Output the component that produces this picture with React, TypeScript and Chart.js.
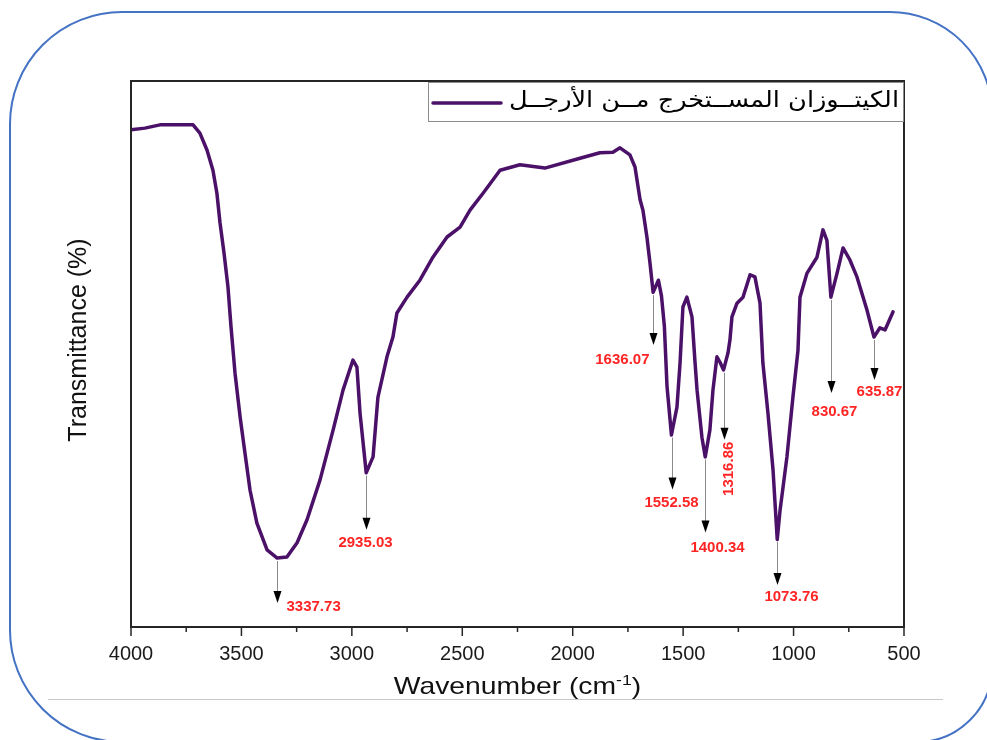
import React, { useEffect, useRef } from "react";
import { Chart, registerables } from "chart.js";

Chart.register(...registerables);

// ---------- DATA ----------
const WAVENUMBERS = [
  4000, 3937, 3869, 3719, 3688, 3656, 3629, 3611, 3597, 3579, 3561, 3547, 3538, 3529, 3506,
  3484, 3461, 3430, 3384, 3338, 3294, 3248, 3203, 3144, 3085, 3040, 2995, 2977, 2963, 2935,
  2904, 2882, 2841, 2814, 2796, 2750, 2692, 2633, 2569, 2510, 2465, 2406, 2329, 2239, 2126,
  1967, 1877, 1818, 1786, 1741, 1718, 1695, 1682, 1664, 1650, 1636, 1612, 1598, 1585, 1573,
  1553, 1528, 1514, 1501, 1483, 1460, 1446, 1437, 1415, 1400, 1379, 1365, 1347, 1333, 1317,
  1297, 1288, 1279, 1256, 1229, 1197, 1175, 1152, 1139, 1116, 1093, 1074, 1061, 1030, 1003,
  980, 971, 939, 894, 867, 849, 831, 803, 776, 745, 713, 668, 636, 609, 586, 550,
];
const TRANSMITTANCE = [
  90.9, 91.2, 91.8, 91.8, 90.3, 87.2, 83.5, 79.3, 73.9, 68.4, 62.2, 54.8, 50.6, 46.4, 38.4,
  31.8, 25.0, 19.0, 14.1, 12.6, 12.8, 15.4, 19.6, 26.9, 36.0, 43.3, 48.8, 47.5, 39.1, 28.2,
  31.1, 42.0, 49.4, 53.0, 57.4, 60.3, 63.4, 67.6, 71.3, 73.1, 76.2, 79.3, 83.5, 84.5, 83.9,
  85.7, 86.7, 86.8, 87.6, 86.3, 84.1, 78.1, 76.2, 71.3, 66.5, 61.2, 63.4, 60.5, 55.0, 44.0,
  35.1, 40.2, 48.3, 58.5, 60.3, 56.7, 48.3, 43.3, 34.7, 31.1, 36.0, 43.3, 49.4, 48.4, 47.0,
  50.1, 52.5, 56.7, 59.2, 60.3, 64.4, 64.0, 59.2, 48.3, 39.1, 28.7, 16.0, 21.4, 31.1, 42.0,
  50.6, 60.3, 64.7, 67.6, 72.6, 70.7, 60.3, 64.7, 69.3, 67.1, 64.0, 58.0, 53.0, 54.7, 54.3, 57.6,
];
const SERIES_LABEL = "الكيتــوزان المســتخرج مــن الأرجــل";
const X_MIN = 500;
const X_MAX = 4000;
const X_MAJOR_STEP = 500;
const X_MINOR_STEP = 250;
const X_TITLE = "Wavenumber (cm";
const X_TITLE_SUP = "-1";
const Y_TITLE = "Transmittance (%)";

const PEAK_WAVENUMBERS = [3337.73, 2935.03, 1636.07, 1552.58, 1400.34, 1316.86, 1073.76, 830.67, 635.87];
const PEAK_LABELS = ["3337.73", "2935.03", "1636.07", "1552.58", "1400.34", "1316.86", "1073.76", "830.67", "635.87"];

// ---------- STYLE (pixel offsets for annotation arrows / labels) ----------
const PEAK_STYLE = [
  { drop: 45, dx: 9, dy: 4, align: "left", rotate: false },
  { drop: 57, dx: -1, dy: 13, align: "center", rotate: false },
  { drop: 53, dx: -4, dy: 15, align: "right", rotate: false },
  { drop: 55, dx: -1, dy: 13, align: "center", rotate: false },
  { drop: 76, dx: 12, dy: 15, align: "center", rotate: false },
  { drop: 70, dx: 4, dy: 29, align: "center", rotate: true },
  { drop: 46, dx: 14, dy: 12, align: "center", rotate: false },
  { drop: 96, dx: 3, dy: 19, align: "center", rotate: false },
  { drop: 43, dx: 5, dy: 12, align: "center", rotate: false },
];

const LINE_COLOR = "#4b1169";
const FONT = '"Liberation Sans", Arial, sans-serif';

function interpT(wn: number): number {
  for (let i = 0; i < WAVENUMBERS.length - 1; i++) {
    const a = WAVENUMBERS[i];
    const b = WAVENUMBERS[i + 1];
    if (wn <= a && wn >= b) {
      const t = (a - wn) / (a - b);
      return TRANSMITTANCE[i] + t * (TRANSMITTANCE[i + 1] - TRANSMITTANCE[i]);
    }
  }
  return TRANSMITTANCE[TRANSMITTANCE.length - 1];
}

const decorPlugin = {
  id: "decor",
  afterDatasetsDraw(chart: any) {
    const ctx = chart.ctx as CanvasRenderingContext2D;
    const xs = chart.scales.x;
    const ys = chart.scales.y;
    const area = chart.chartArea;

    // Peak annotations
    PEAK_WAVENUMBERS.forEach((wn, i) => {
      const st = PEAK_STYLE[i];
      const x = Math.round(xs.getPixelForValue(wn)) + 0.5;
      const y0 = ys.getPixelForValue(interpT(wn));
      const tip = y0 + st.drop;
      ctx.save();
      ctx.strokeStyle = "#8a8a8a";
      ctx.lineWidth = 1;
      ctx.beginPath();
      ctx.moveTo(x, y0 + 3);
      ctx.lineTo(x, tip - 11);
      ctx.stroke();
      ctx.fillStyle = "#000";
      ctx.beginPath();
      ctx.moveTo(x - 4, tip - 12);
      ctx.lineTo(x + 4, tip - 12);
      ctx.lineTo(x, tip);
      ctx.closePath();
      ctx.fill();
      ctx.fillStyle = "#ff2424";
      ctx.font = `bold 15px ${FONT}`;
      ctx.textBaseline = "middle";
      if (st.rotate) {
        ctx.translate(x + st.dx, tip + st.dy);
        ctx.rotate(-Math.PI / 2);
        ctx.textAlign = "center";
        ctx.fillText(PEAK_LABELS[i], 0, 0);
      } else {
        ctx.textAlign = st.align as CanvasTextAlign;
        ctx.fillText(PEAK_LABELS[i], x + st.dx, tip + st.dy);
      }
      ctx.restore();
    });

    // Frame
    ctx.save();
    ctx.strokeStyle = "#262626";
    ctx.lineWidth = 2;
    ctx.strokeRect(area.left, area.top + 1, area.right - area.left, area.bottom - area.top - 1);
    // Ticks on bottom axis
    ctx.lineWidth = 1.5;
    for (let v = X_MIN; v <= X_MAX; v += X_MINOR_STEP) {
      const px = xs.getPixelForValue(v);
      const major = (v - X_MIN) % X_MAJOR_STEP === 0;
      ctx.beginPath();
      ctx.moveTo(px, area.bottom);
      ctx.lineTo(px, area.bottom + (major ? 9 : 5));
      ctx.stroke();
    }
    ctx.restore();

    // Legend
    ctx.save();
    const lx = 428, ly = 82, lw = area.right - 428, lh = 40;
    ctx.fillStyle = "#fff";
    ctx.fillRect(lx, ly, lw, lh);
    ctx.strokeStyle = "#8c8c8c";
    ctx.lineWidth = 1;
    ctx.strokeRect(lx + 0.5, ly + 0.5, lw - 1, lh - 1);
    ctx.strokeStyle = LINE_COLOR;
    ctx.lineWidth = 3.5;
    ctx.lineCap = "round";
    ctx.beginPath();
    ctx.moveTo(433, 103);
    ctx.lineTo(501, 103);
    ctx.stroke();
    ctx.fillStyle = "#000";
    ctx.font = '22px "DejaVu Sans", sans-serif';
    (ctx as any).direction = "rtl";
    ctx.textAlign = "right";
    ctx.textBaseline = "middle";
    const tw = ctx.measureText(SERIES_LABEL).width;
    const s = 390 / tw;
    ctx.translate(899, 101);
    ctx.scale(s, 1);
    ctx.fillText(SERIES_LABEL, 0, 0);
    ctx.restore();

    // X title with superscript
    ctx.save();
    ctx.fillStyle = "#111";
    ctx.textBaseline = "alphabetic";
    ctx.textAlign = "left";
    ctx.font = `24px ${FONT}`;
    const w1 = ctx.measureText(X_TITLE).width;
    const w3 = ctx.measureText(")").width;
    ctx.font = `15px ${FONT}`;
    const w2 = ctx.measureText(X_TITLE_SUP).width;
    const sx = 1.18;
    const total = (w1 + w2 + w3) * sx;
    const cx = (area.left + area.right) / 2;
    ctx.translate(cx - total / 2, 694);
    ctx.scale(sx, 1);
    ctx.font = `24px ${FONT}`;
    ctx.fillText(X_TITLE, 0, 0);
    ctx.font = `15px ${FONT}`;
    ctx.fillText(X_TITLE_SUP, w1, -9);
    ctx.font = `24px ${FONT}`;
    ctx.fillText(")", w1 + w2, 0);
    ctx.restore();

    // Y title
    ctx.save();
    ctx.fillStyle = "#111";
    ctx.font = `25px ${FONT}`;
    ctx.textAlign = "center";
    ctx.textBaseline = "middle";
    ctx.translate(79, 340);
    ctx.rotate(-Math.PI / 2);
    ctx.fillText(Y_TITLE, 0, 0);
    ctx.restore();
  },
};

export default function App() {
  const ref = useRef<HTMLCanvasElement>(null);

  useEffect(() => {
    const canvas = ref.current!;
    const chart = new Chart(canvas, {
      type: "line",
      data: {
        datasets: [
          {
            label: SERIES_LABEL,
            data: WAVENUMBERS.map((x, i) => ({ x, y: TRANSMITTANCE[i] })),
            borderColor: LINE_COLOR,
            borderWidth: 3.5,
            pointRadius: 0,
            tension: 0,
            fill: false,
            borderJoinStyle: "round",
            borderCapStyle: "round",
          } as any,
        ],
      },
      options: {
        responsive: false,
        animation: false,
        devicePixelRatio: 1,
        layout: { padding: { top: 80, right: 83, left: 0, bottom: 0 } },
        plugins: { legend: { display: false }, tooltip: { enabled: false } },
        scales: {
          x: {
            type: "linear",
            reverse: true,
            min: X_MIN,
            max: X_MAX,
            afterFit: (s: any) => {
              s.height = 113;
            },
            grid: { display: false, drawTicks: true, tickLength: 8 },
            border: { display: false },
            ticks: {
              stepSize: X_MAJOR_STEP,
              padding: 7,
              autoSkip: false,
              maxRotation: 0,
              color: "#1a1a1a",
              font: { family: FONT, size: 20 },
              callback: (v: any) => String(v),
            },
          },
          y: {
            min: 0,
            max: 100,
            afterFit: (s: any) => {
              s.width = 131;
            },
            grid: { display: false },
            border: { display: false },
            ticks: { display: false },
          },
        },
      } as any,
      plugins: [decorPlugin],
    });
    return () => chart.destroy();
  }, []);

  return (
    <div
      style={{
        position: "fixed",
        left: 0,
        top: 0,
        width: 987,
        height: 740,
        background: "#fff",
        overflow: "hidden",
      }}
    >
      <canvas ref={ref} width={987} height={740} style={{ position: "absolute", left: 0, top: 0, width: 987, height: 740 }} />
      <svg
        width={987}
        height={740}
        style={{ position: "absolute", left: 0, top: 0, pointerEvents: "none" }}
      >
        <path
          d="M 122 12 L 890 12 A 102 102 0 0 1 992 114 L 992 667 A 75 75 0 0 1 917 742 L 122 742 A 112 112 0 0 1 10 630 L 10 124 A 112 112 0 0 1 122 12 Z"
          fill="none"
          stroke="#4472c4"
          strokeWidth={2}
        />
        <line x1={48} y1={699.5} x2={943} y2={699.5} stroke="#c8c8c8" strokeWidth={1} />
      </svg>
    </div>
  );
}
